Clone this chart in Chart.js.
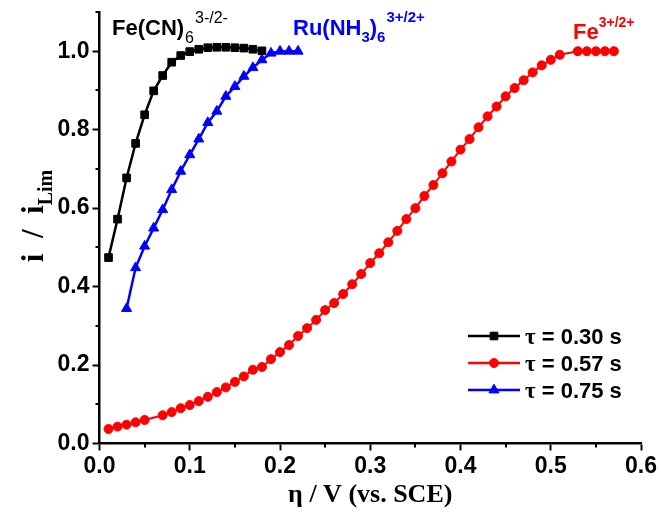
<!DOCTYPE html>
<html>
<head>
<meta charset="utf-8">
<title>i / iLim vs overpotential</title>
<script src="https://cdn.jsdelivr.net/npm/chart.js@4.4.1/dist/chart.umd.min.js"></script>
<style>
  html, body { margin: 0; padding: 0; background: #fff; }
  #wrap { width: 661px; height: 512px; }
</style>
</head>
<body>
<div id="wrap"><canvas id="chart" width="661" height="512"></canvas></div>
<script>
// ===== normalized current vs overpotential for three redox couples =====

// Fe(CN)6 3-/2-, tau = 0.30 s
const fecnEta = [0.01, 0.02, 0.03, 0.04, 0.05, 0.06, 0.07, 0.08, 0.09, 0.10,
                 0.11, 0.12, 0.13, 0.14, 0.15, 0.16, 0.17, 0.18];
const fecnCurrent = [0.474, 0.572, 0.677, 0.765, 0.838, 0.899, 0.938, 0.972, 0.989, 0.999,
                     1.005, 1.009, 1.010, 1.010, 1.009, 1.008, 1.005, 1.001];

// Fe 3+/2+, tau = 0.57 s (no points recorded at 0.06 and 0.52 V)
const feEta = [0.01, 0.02, 0.03, 0.04, 0.05, 0.07, 0.08, 0.09, 0.10,
               0.11, 0.12, 0.13, 0.14, 0.15, 0.16, 0.17, 0.18, 0.19, 0.20,
               0.21, 0.22, 0.23, 0.24, 0.25, 0.26, 0.27, 0.28, 0.29, 0.30,
               0.31, 0.32, 0.33, 0.34, 0.35, 0.36, 0.37, 0.38, 0.39, 0.40,
               0.41, 0.42, 0.43, 0.44, 0.45, 0.46, 0.47, 0.48, 0.49, 0.50,
               0.51, 0.53, 0.54, 0.55, 0.56, 0.57];
const feCurrent = [0.037, 0.043, 0.048, 0.054, 0.060, 0.072, 0.080, 0.090, 0.098,
                   0.108, 0.119, 0.131, 0.143, 0.157, 0.171, 0.188, 0.195, 0.215, 0.233,
                   0.251, 0.274, 0.294, 0.315, 0.340, 0.358, 0.381, 0.406, 0.432, 0.460,
                   0.485, 0.513, 0.542, 0.572, 0.600, 0.631, 0.659, 0.689, 0.719, 0.749,
                   0.776, 0.806, 0.834, 0.859, 0.885, 0.906, 0.926, 0.946, 0.964, 0.978,
                   0.991, 1.000, 1.000, 1.000, 1.000, 1.000];

// Ru(NH3)6 3+/2+, tau = 0.75 s
const ruEta = [0.03, 0.04, 0.05, 0.06, 0.07, 0.08, 0.09, 0.10, 0.11, 0.12,
               0.13, 0.14, 0.15, 0.16, 0.17, 0.18, 0.19, 0.20, 0.21, 0.22];
const ruCurrent = [0.344, 0.448, 0.503, 0.549, 0.596, 0.647, 0.694, 0.736, 0.776, 0.818,
                   0.847, 0.885, 0.910, 0.936, 0.958, 0.978, 0.995, 1.000, 1.000, 1.000];

const seriesLabels = ['τ = 0.30 s', 'τ = 0.57 s', 'τ = 0.75 s'];
const xTickValues = [0, 0.1, 0.2, 0.3, 0.4, 0.5, 0.6];
const yTickValues = [0, 0.2, 0.4, 0.6, 0.8, 1.0];
const xMinorTicks = [0.05, 0.15, 0.25, 0.35, 0.45, 0.55];
const yMinorTicks = [0.1, 0.3, 0.5, 0.7, 0.9, 1.1];

const SANS = '"Liberation Sans", Arial, sans-serif';
const SERIF = '"Liberation Serif", "Times New Roman", serif';

function toPoints(xs, ys) {
    return xs.map((x, i) => ({ x: x, y: ys[i] }));
}

// draw a row of text pieces (sub/superscripts) starting at x, returns end x
function drawRuns(ctx, x, y, runs) {
    runs.forEach(r => {
        ctx.font = r.font;
        ctx.fillStyle = r.color || '#000';
        ctx.fillText(r.text, x, y + (r.dy || 0));
        x += ctx.measureText(r.text).width + (r.gap || 0);
    });
    return x;
}

function runsWidth(ctx, runs) {
    let w = 0;
    runs.forEach(r => { ctx.font = r.font; w += ctx.measureText(r.text).width + (r.gap || 0); });
    return w;
}

const decorations = {
    id: 'decorations',
    afterDraw(chart) {
        const { ctx, chartArea, scales: { x, y } } = chart;
        ctx.save();

        // minor ticks
        ctx.strokeStyle = '#000';
        ctx.lineWidth = 2;
        ctx.beginPath();
        xMinorTicks.forEach(v => {
            const px = Math.round(x.getPixelForValue(v));
            ctx.moveTo(px, chartArea.bottom);
            ctx.lineTo(px, chartArea.bottom + 4);
        });
        yMinorTicks.forEach(v => {
            const py = Math.round(y.getPixelForValue(v));
            ctx.moveTo(chartArea.left, py);
            ctx.lineTo(chartArea.left - 4, py);
        });
        ctx.stroke();

        ctx.textBaseline = 'alphabetic';
        ctx.textAlign = 'left';

        // couple labels
        drawRuns(ctx, 112, 35, [
            { text: 'Fe(CN)', font: `bold 22px ${SANS}`, gap: 1 },
            { text: '6', font: `16px ${SANS}`, dy: 8, gap: 1 },
            { text: '3-/2-', font: `16px ${SANS}`, dy: -12 }
        ]);
        drawRuns(ctx, 293, 35, [
            { text: 'Ru(NH', font: `bold 22px ${SANS}`, color: '#0000ff' },
            { text: '3', font: `bold 15px ${SANS}`, dy: 7, color: '#0000ff' },
            { text: ')', font: `bold 22px ${SANS}`, color: '#0000ff' },
            { text: '6', font: `bold 15px ${SANS}`, dy: 7, color: '#0000ff', gap: 1 },
            { text: '3+/2+', font: `bold 15px ${SANS}`, dy: -13, color: '#0000ff' }
        ]);
        drawRuns(ctx, 573, 39, [
            { text: 'Fe', font: `bold 22px ${SANS}`, color: '#ff0000' },
            { text: '3+/2+', font: `bold 14px ${SANS}`, dy: -12, color: '#ff0000' }
        ]);

        // legend inside the plot
        chart.data.datasets.forEach((ds, i) => {
            const rowY = 336 + i * 27;
            ctx.strokeStyle = ds.borderColor;
            ctx.lineWidth = 2.5;
            ctx.beginPath();
            ctx.moveTo(468, rowY);
            ctx.lineTo(520, rowY);
            ctx.stroke();
            ctx.fillStyle = ds.backgroundColor;
            ctx.lineWidth = 1;
            Chart.helpers.drawPoint(ctx, {
                pointStyle: ds.pointStyle, radius: ds.pointRadius,
                borderWidth: 1, rotation: 0
            }, 494, rowY);
            const label = ds.label;
            drawRuns(ctx, 525, rowY + 8, [
                { text: label.charAt(0), font: `bold 23px ${SERIF}` },
                { text: label.slice(1), font: `bold 22px ${SANS}` }
            ]);
        });

        // axis titles
        const xTitle = [{ text: 'η / V (vs. SCE)', font: `bold 26px ${SERIF}` }];
        const cx = (chartArea.left + chartArea.right) / 2;
        drawRuns(ctx, cx - runsWidth(ctx, xTitle) / 2, 502, xTitle);

        const yTitle = [
            { text: 'i  /  i', font: `bold 31px ${SERIF}` },
            { text: 'Lim', font: `bold 20px ${SERIF}`, dy: 9 }
        ];
        ctx.translate(43, 216);
        ctx.rotate(-Math.PI / 2);
        drawRuns(ctx, -runsWidth(ctx, yTitle) / 2, 0, yTitle);

        ctx.restore();
    }
};

const axisCommon = {
    type: 'linear',
    grid: {
        drawOnChartArea: false,
        drawTicks: true,
        tickLength: 7,
        tickWidth: 2,
        tickColor: '#000'
    },
    border: { display: true, color: '#000', width: 2.5 },
    ticks: {
        color: '#000',
        font: { family: SANS, size: 23, weight: 'bold' },
        callback: v => v.toFixed(1)
    }
};

new Chart(document.getElementById('chart'), {
    type: 'line',
    data: {
        datasets: [
            {
                label: seriesLabels[0],
                data: toPoints(fecnEta, fecnCurrent),
                borderColor: '#000000',
                backgroundColor: '#000000',
                borderWidth: 2.5,
                pointStyle: 'rect',
                pointRadius: 5.4,
                pointBorderWidth: 1,
                order: 1
            },
            {
                label: seriesLabels[1],
                data: toPoints(feEta, feCurrent),
                borderColor: '#ff0000',
                backgroundColor: '#ff0000',
                borderWidth: 2,
                pointStyle: 'circle',
                pointRadius: 4.5,
                pointBorderWidth: 1,
                order: 2
            },
            {
                label: seriesLabels[2],
                data: toPoints(ruEta, ruCurrent),
                borderColor: '#0000ff',
                backgroundColor: '#0000ff',
                borderWidth: 2.5,
                pointStyle: 'triangle',
                pointRadius: 5.8,
                pointBorderWidth: 1,
                order: 0
            }
        ]
    },
    options: {
        responsive: false,
        animation: false,
        layout: { padding: { top: 12, right: 20, left: 0, bottom: 0 } },
        plugins: {
            legend: { display: false },
            tooltip: { enabled: false }
        },
        elements: { line: { tension: 0 } },
        scales: {
            x: {
                ...axisCommon,
                min: 0,
                max: 0.6,
                ticks: { ...axisCommon.ticks, padding: 2 },
                afterBuildTicks: s => { s.ticks = xTickValues.map(v => ({ value: v })); },
                afterFit: s => { s.height = 68.5; }
            },
            y: {
                ...axisCommon,
                min: 0,
                max: 1.1,
                ticks: { ...axisCommon.ticks, padding: 3 },
                afterBuildTicks: s => { s.ticks = yTickValues.map(v => ({ value: v })); },
                afterFit: s => { s.width = 99.5; s.paddingTop = 0; s.paddingBottom = 0; }
            }
        }
    },
    plugins: [decorations]
});
</script>
</body>
</html>
